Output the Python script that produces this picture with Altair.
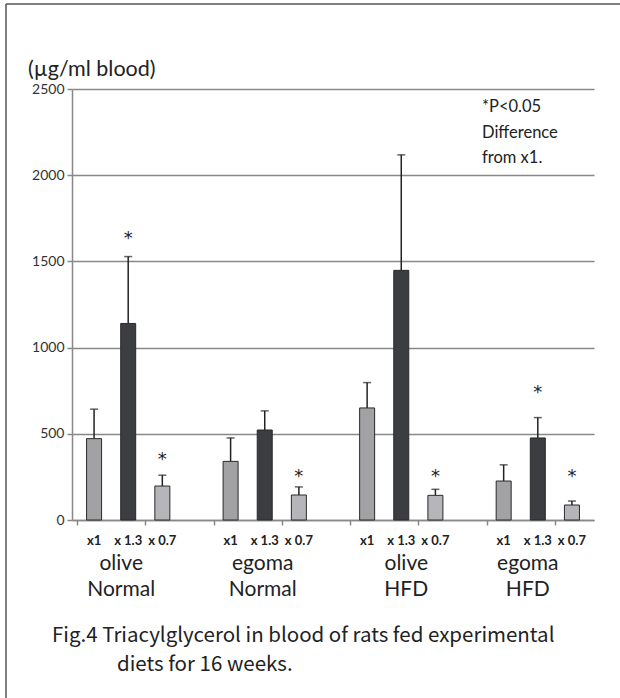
import altair as alt
import pandas as pd

# ---- data ----
dose_labels = ["x1", "x 1.3", "x 0.7"]
group_top = ["olive", "egoma", "olive", "egoma"]
group_bottom = ["Normal", "Normal", "HFD", "HFD"]
means = [472, 1140, 197, 340, 522, 145, 650, 1448, 143, 226, 476, 87]
err_tops = [643, 1528, 260, 476, 633, 192, 797, 2118, 178, 320, 594, 110]
star_y = [None, 1650, 366, None, None, 267, None, None, 267, None, 756, 267]
y_ticks = [0, 500, 1000, 1500, 2000, 2500]
dose_colors = ["#a2a2a4", "#3b3d40", "#b6b6ba"]
group_label_dx = [-7, -2, 5, -10]

rows = []
for g in range(4):
    for d in range(3):
        i = g * 3 + d
        rows.append(dict(pos=g * 4 + d + 1, dose=dose_labels[d], mean=means[i],
                         err=err_tops[i], star=star_y[i]))
df = pd.DataFrame(rows)

W, H = 522, 431
LAT = "Lato"
JP = "Noto Sans CJK JP"

xscale = alt.Scale(domain=[0.5, 15.5], nice=False, zero=False)
yscale = alt.Scale(domain=[0, 2500], nice=False)

base = alt.Chart(df)

bars = base.mark_bar(size=15, stroke="#2a2a2a", strokeWidth=1).encode(
    x=alt.X("pos:Q", scale=xscale,
            axis=alt.Axis(values=[0.5 + k for k in range(16)], labels=False, grid=False,
                          tickSize=5, tickColor="#888888", domainColor="#888888",
                          domainWidth=1.5, tickWidth=1.5, title=None)),
    y=alt.Y("mean:Q", scale=yscale,
            axis=alt.Axis(values=y_ticks, format="d", grid=True, gridColor="#888888", gridWidth=1.5,
                          domainColor="#888888", domainWidth=1.5, tickColor="#888888",
                          tickWidth=1.5, tickSize=5, labelPadding=3, labelFont=LAT,
                          labelFontSize=14, labelColor="#333333", title=None)),
    color=alt.Color("dose:N", scale=alt.Scale(domain=dose_labels, range=dose_colors), legend=None),
)

err_rule = base.mark_rule(color="#222222", strokeWidth=1.5).encode(
    x="pos:Q", y="mean:Q", y2="err:Q")
err_cap = base.mark_tick(orient="horizontal", size=8, thickness=1.5, color="#222222").encode(
    x="pos:Q", y="err:Q")

stars = base.transform_filter("datum.star != null").mark_text(
    text="*", fontSize=18, font="DejaVu Sans", fill="#222222", color="#222222",
    baseline="middle", dy=3).encode(
    x="pos:Q", y="star:Q")

dose_text = base.mark_text(fontSize=13, fontWeight="bold", font=LAT, color="#222222",
                           baseline="middle").encode(
    x="pos:Q", y=alt.value(H + 21), text="dose:N")

group_layers = []
for g in range(4):
    dfg = pd.DataFrame(dict(pos=[g * 4 + 2], top=[group_top[g]], bottom=[group_bottom[g]]))
    group_layers.append(alt.Chart(dfg).mark_text(
        fontSize=21, font=LAT, color="#222222", baseline="middle", dx=group_label_dx[g]).encode(
        x=alt.X("pos:Q", scale=xscale), y=alt.value(H + 44), text="top:N"))
    group_layers.append(alt.Chart(dfg).mark_text(
        fontSize=21, font=LAT, color="#222222", baseline="middle", dx=group_label_dx[g]).encode(
        x=alt.X("pos:Q", scale=xscale), y=alt.value(H + 70), text="bottom:N"))

one = pd.DataFrame({"a": [0]})
ylabel = alt.Chart(one).mark_text(text="(µg/ml blood)", fontSize=21.5, font=LAT, color="#222222",
                                  align="left", baseline="middle").encode(
    x=alt.value(-44), y=alt.value(-19))
note = alt.Chart(one).mark_text(text=["*P<0.05", "Difference", "from x1."], fontSize=16.5, font=LAT,
                                color="#222222", align="left", baseline="middle",
                                lineHeight=25.5).encode(
    x=alt.value(410), y=alt.value(18))
cap1 = alt.Chart(one).mark_text(text="Fig.4  Triacylglycerol in blood of rats fed experimental",
                                fontSize=20.5, font=JP, color="#222222", align="left",
                                baseline="middle").encode(x=alt.value(-20), y=alt.value(547))
cap2 = alt.Chart(one).mark_text(text="diets for 16 weeks.", fontSize=20.5, font=JP, color="#222222",
                                align="left", baseline="middle").encode(x=alt.value(45), y=alt.value(576))

frame_top = alt.Chart(one).mark_rule(color="#555555", strokeWidth=1.5).encode(
    x=alt.value(-66), x2=alt.value(560), y=alt.value(-85))
frame_left = alt.Chart(one).mark_rule(color="#555555", strokeWidth=1.5).encode(
    x=alt.value(-66), y=alt.value(-85), y2=alt.value(620))

chart = alt.layer(
    frame_top, frame_left, err_rule, bars, err_cap, stars, dose_text, *group_layers,
    ylabel, note, cap1, cap2
).properties(
    width=W, height=H,
    autosize=alt.AutoSizeParams(type="none"),
    padding={"left": 72, "top": 89, "right": 26, "bottom": 178},
    background="white",
).configure_view(stroke=None)

chart.save("out.html", embed_options={"renderer": "svg", "actions": False})
